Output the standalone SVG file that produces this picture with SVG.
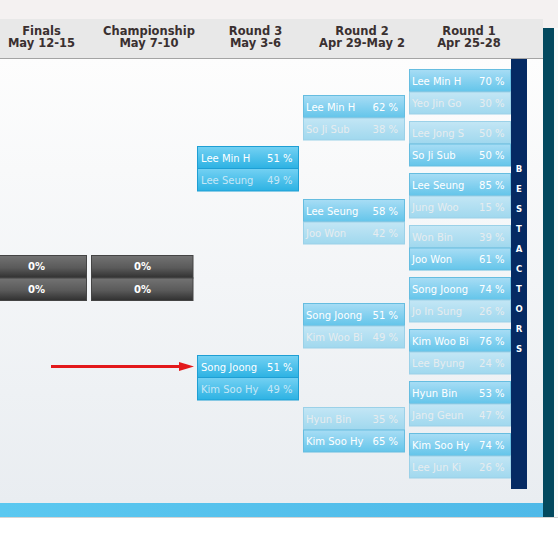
<svg xmlns="http://www.w3.org/2000/svg" width="558" height="535" viewBox="0 0 558 535">
<defs>
<linearGradient id="gBody" x1="0" y1="0" x2="0" y2="1"><stop offset="0" stop-color="#fdfdfd"/><stop offset="1" stop-color="#e9edf1"/></linearGradient>
<linearGradient id="gW" x1="0" y1="0" x2="0" y2="1"><stop offset="0" stop-color="#a8ddf5"/><stop offset="1" stop-color="#64c5ea"/></linearGradient>
<linearGradient id="gL" x1="0" y1="0" x2="0" y2="1"><stop offset="0" stop-color="#c3e6f5"/><stop offset="1" stop-color="#a0d8ee"/></linearGradient>
<linearGradient id="gR3" x1="0" y1="0" x2="0" y2="1"><stop offset="0" stop-color="#74d1f3"/><stop offset="1" stop-color="#2cb2e3"/></linearGradient>
<linearGradient id="gGray" x1="0" y1="0" x2="0" y2="1"><stop offset="0" stop-color="#737373"/><stop offset="0.55" stop-color="#5a5a5a"/><stop offset="1" stop-color="#303030"/></linearGradient>
<linearGradient id="gBar" x1="0" y1="0" x2="1" y2="0"><stop offset="0" stop-color="#5bc8f0"/><stop offset="1" stop-color="#4fb9e8"/></linearGradient>
<marker id="arrow" markerUnits="userSpaceOnUse" markerWidth="15" markerHeight="9" refX="7" refY="4.5" orient="auto"><path d="M0,0 L15,4.5 L0,9 z" fill="#e3191b"/></marker>
</defs>
<style>
.hd{font-family:"DejaVu Sans",Verdana,sans-serif;font-weight:bold;font-size:11.5px;fill:#3a3030;text-anchor:middle}
.t{font-family:"DejaVu Sans",Verdana,sans-serif;font-size:10px}
.p{text-anchor:end}
.tw{fill:#ffffff}
.tl{fill:#e6ecef}
.t3l{fill:#c6e7f6}
.rw{fill:url(#gW);stroke:#66bde0;stroke-width:1}
.rl{fill:url(#gL);stroke:#9bd1e8;stroke-width:1}
.r3{fill:url(#gR3);stroke:#1f9fd4;stroke-width:1}
.gr{fill:url(#gGray);stroke:#444;stroke-width:1}
.z{font-family:"DejaVu Sans",Verdana,sans-serif;font-weight:bold;font-size:10px;fill:#fff;text-anchor:middle}
.v{font-family:"DejaVu Sans",Verdana,sans-serif;font-weight:bold;font-size:8.5px;fill:#fff;text-anchor:middle}
</style>
<!-- background -->
<rect x="0" y="0" width="558" height="535" fill="#f4f1f1"/>
<rect x="0" y="517" width="558" height="18" fill="#ffffff"/>
<rect x="0" y="517" width="558" height="1" fill="#d4d4d4"/>
<rect x="0" y="19" width="543" height="40" fill="#e8e8e8"/>
<rect x="0" y="58" width="543" height="1" fill="#a4a4a4"/>
<rect x="0" y="59" width="543" height="444" fill="url(#gBody)"/>
<rect x="0" y="503" width="543" height="14" fill="url(#gBar)"/>
<rect x="543" y="28" width="11" height="489" fill="#03495f"/>
<rect x="554" y="28" width="4" height="489" fill="#fafafa"/>
<!-- header -->
<g id="header">
<text class="hd" x="41.5" y="34.5">Finals</text><text class="hd" x="41.5" y="47">May 12-15</text>
<text class="hd" x="149" y="34.5">Championship</text><text class="hd" x="149" y="47">May 7-10</text>
<text class="hd" x="255.5" y="34.5">Round 3</text><text class="hd" x="255.5" y="47">May 3-6</text>
<text class="hd" x="362" y="34.5">Round 2</text><text class="hd" x="362" y="47">Apr 29-May 2</text>
<text class="hd" x="469" y="34.5">Round 1</text><text class="hd" x="469" y="47">Apr 25-28</text>
</g>
<!-- side banner -->
<g id="banner">
<rect x="511" y="59" width="16" height="430" fill="#052a63"/>
<text class="v" x="519" y="172">B</text><text class="v" x="519" y="192">E</text><text class="v" x="519" y="212">S</text><text class="v" x="519" y="232">T</text><text class="v" x="519" y="252">A</text><text class="v" x="519" y="272">C</text><text class="v" x="519" y="292">T</text><text class="v" x="519" y="312">O</text><text class="v" x="519" y="332">R</text><text class="v" x="519" y="352">S</text>
</g>
<!-- finals -->
<g id="finals">
<rect class="gr" x="-16.5" y="255.5" width="103" height="22.5"/><rect class="gr" x="-16.5" y="278" width="103" height="22.5"/>
<text class="z" x="36.5" y="270">0%</text><text class="z" x="36.5" y="293">0%</text>
</g>
<g id="championship">
<rect class="gr" x="91.5" y="255.5" width="101.5" height="22.5"/><rect class="gr" x="91.5" y="278" width="101.5" height="22.5"/>
<text class="z" x="142.5" y="270">0%</text><text class="z" x="142.5" y="293">0%</text>
</g>
<!-- round 3 -->
<g id="r3-1">
<rect class="r3" x="197.5" y="146.5" width="101" height="22"/><rect class="r3" x="197.5" y="168.5" width="101" height="22.5"/>
<text class="t tw" x="201" y="161.5">Lee Min H</text><text class="t tw p" x="292.5" y="161.5">51 %</text>
<text class="t t3l" x="201" y="184">Lee Seung</text><text class="t t3l p" x="292.5" y="184">49 %</text>
</g>
<g id="r3-2">
<rect class="r3" x="197.5" y="355.5" width="101" height="22"/><rect class="r3" x="197.5" y="377.5" width="101" height="22.5"/>
<text class="t tw" x="201" y="370.5">Song Joong</text><text class="t tw p" x="292.5" y="370.5">51 %</text>
<text class="t t3l" x="201" y="393">Kim Soo Hy</text><text class="t t3l p" x="292.5" y="393">49 %</text>
</g>
<!-- round 2 -->
<g id="r2-1">
<rect class="rw" x="303.5" y="95.5" width="101" height="22"/><rect class="rl" x="303.5" y="118" width="101" height="22"/>
<text class="t tw" x="306" y="110.5">Lee Min H</text><text class="t tw p" x="398" y="110.5">62 %</text>
<text class="t tl" x="306" y="133">So Ji Sub</text><text class="t tl p" x="398" y="133">38 %</text>
</g>
<g id="r2-2">
<rect class="rw" x="303.5" y="199.5" width="101" height="22"/><rect class="rl" x="303.5" y="222" width="101" height="22"/>
<text class="t tw" x="306" y="214.5">Lee Seung</text><text class="t tw p" x="398" y="214.5">58 %</text>
<text class="t tl" x="306" y="237">Joo Won</text><text class="t tl p" x="398" y="237">42 %</text>
</g>
<g id="r2-3">
<rect class="rw" x="303.5" y="303.5" width="101" height="22"/><rect class="rl" x="303.5" y="326" width="101" height="22"/>
<text class="t tw" x="306" y="318.5">Song Joong</text><text class="t tw p" x="398" y="318.5">51 %</text>
<text class="t tl" x="306" y="341">Kim Woo Bi</text><text class="t tl p" x="398" y="341">49 %</text>
</g>
<g id="r2-4">
<rect class="rl" x="303.5" y="407.5" width="101" height="22"/><rect class="rw" x="303.5" y="430" width="101" height="22"/>
<text class="t tl" x="306" y="422.5">Hyun Bin</text><text class="t tl p" x="398" y="422.5">35 %</text>
<text class="t tw" x="306" y="445">Kim Soo Hy</text><text class="t tw p" x="398" y="445">65 %</text>
</g>
<!-- round 1 -->
<g id="r1-1">
<rect class="rw" x="409.5" y="69.5" width="101" height="22"/><rect class="rl" x="409.5" y="92" width="101" height="22"/>
<text class="t tw" x="412" y="84.5">Lee Min H</text><text class="t tw p" x="504.5" y="84.5">70 %</text>
<text class="t tl" x="412" y="107">Yeo Jin Go</text><text class="t tl p" x="504.5" y="107">30 %</text>
</g>
<g id="r1-2">
<rect class="rl" x="409.5" y="121.5" width="101" height="22"/><rect class="rw" x="409.5" y="144" width="101" height="22"/>
<text class="t tl" x="412" y="136.5">Lee Jong S</text><text class="t tl p" x="504.5" y="136.5">50 %</text>
<text class="t tw" x="412" y="159">So Ji Sub</text><text class="t tw p" x="504.5" y="159">50 %</text>
</g>
<g id="r1-3">
<rect class="rw" x="409.5" y="173.5" width="101" height="22"/><rect class="rl" x="409.5" y="196" width="101" height="22"/>
<text class="t tw" x="412" y="188.5">Lee Seung</text><text class="t tw p" x="504.5" y="188.5">85 %</text>
<text class="t tl" x="412" y="211">Jung Woo</text><text class="t tl p" x="504.5" y="211">15 %</text>
</g>
<g id="r1-4">
<rect class="rl" x="409.5" y="225.5" width="101" height="22"/><rect class="rw" x="409.5" y="248" width="101" height="22"/>
<text class="t tl" x="412" y="240.5">Won Bin</text><text class="t tl p" x="504.5" y="240.5">39 %</text>
<text class="t tw" x="412" y="263">Joo Won</text><text class="t tw p" x="504.5" y="263">61 %</text>
</g>
<g id="r1-5">
<rect class="rw" x="409.5" y="277.5" width="101" height="22"/><rect class="rl" x="409.5" y="300" width="101" height="22"/>
<text class="t tw" x="412" y="292.5">Song Joong</text><text class="t tw p" x="504.5" y="292.5">74 %</text>
<text class="t tl" x="412" y="315">Jo In Sung</text><text class="t tl p" x="504.5" y="315">26 %</text>
</g>
<g id="r1-6">
<rect class="rw" x="409.5" y="329.5" width="101" height="22"/><rect class="rl" x="409.5" y="352" width="101" height="22"/>
<text class="t tw" x="412" y="344.5">Kim Woo Bi</text><text class="t tw p" x="504.5" y="344.5">76 %</text>
<text class="t tl" x="412" y="367">Lee Byung</text><text class="t tl p" x="504.5" y="367">24 %</text>
</g>
<g id="r1-7">
<rect class="rw" x="409.5" y="381.5" width="101" height="22"/><rect class="rl" x="409.5" y="404" width="101" height="22"/>
<text class="t tw" x="412" y="396.5">Hyun Bin</text><text class="t tw p" x="504.5" y="396.5">53 %</text>
<text class="t tl" x="412" y="419">Jang Geun</text><text class="t tl p" x="504.5" y="419">47 %</text>
</g>
<g id="r1-8">
<rect class="rw" x="409.5" y="433.5" width="101" height="22"/><rect class="rl" x="409.5" y="456" width="101" height="22"/>
<text class="t tw" x="412" y="448.5">Kim Soo Hy</text><text class="t tw p" x="504.5" y="448.5">74 %</text>
<text class="t tl" x="412" y="471">Lee Jun Ki</text><text class="t tl p" x="504.5" y="471">26 %</text>
</g>
<!-- connectors -->
<g id="connectors">
<line x1="51" y1="366.5" x2="186" y2="366.5" stroke="#e3191b" stroke-width="3" marker-end="url(#arrow)"/>
</g>
</svg>
